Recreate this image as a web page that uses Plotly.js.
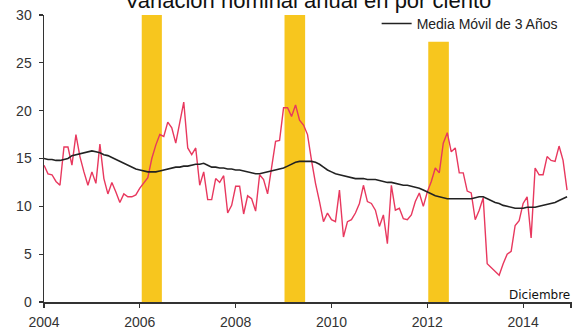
<!DOCTYPE html>
<html><head><meta charset="utf-8">
<script src="https://cdn.plot.ly/plotly-3.0.1.min.js"></script>
<style>html,body{margin:0;padding:0;background:#fff}#chart{width:576px;height:327px}</style>
</head><body><div id="chart"></div>
<script>
// Monthly data, Jan 2004 - Dec 2014
const years = [2004,2005,2006,2007,2008,2009,2010,2011,2012,2013,2014];
const nominalGrowth = [
  14.3,13.4,13.3,12.6,12.2,16.2,16.2,14.3,17.5,15.2,13.6,12.2,   // 2004
  13.6,12.4,16.5,12.9,11.3,12.5,11.5,10.4,11.3,11.0,11.0,11.2,   // 2005
  11.9,12.5,13.0,15.0,16.4,17.5,17.3,18.8,18.2,16.6,18.8,20.9,   // 2006
  16.1,15.4,16.1,12.2,13.6,10.7,10.7,12.9,12.5,13.2, 9.3,10.1,   // 2007
  12.1,12.1, 9.2,11.1,10.8, 9.5,13.3,12.8,11.3,14.1,16.8,16.9,   // 2008
  20.3,20.3,19.4,20.6,19.0,18.5,17.5,14.8,12.4,10.5, 8.4, 9.3,   // 2009
   8.6, 8.4,11.7, 6.8, 8.4, 8.6, 9.3,10.3,12.2,10.5,10.3, 9.6,   // 2010
   7.9, 9.1, 6.1,12.2, 9.6, 9.8, 8.7, 8.6, 9.1,10.5,11.4,10.0,   // 2011
  11.5,12.6,14.0,13.5,16.6,17.7,15.7,16.1,13.5,13.5,11.6,11.4,   // 2012
   8.6, 9.6,10.9, 4.0, 3.6, 3.2, 2.8, 4.0, 5.0, 5.3, 8.0, 8.5,   // 2013
  10.3,11.0, 6.7,14.0,13.3,13.3,15.2,14.8,14.7,16.3,14.8,11.7    // 2014
];
const movingAvg3y = [
  15.0,14.9,14.9,14.8,14.8,14.9,15.0,15.3,15.4,15.5,15.6,15.7,
  15.8,15.7,15.6,15.4,15.3,15.1,14.9,14.7,14.5,14.3,14.1,13.9,
  13.8,13.7,13.6,13.6,13.6,13.7,13.8,13.9,14.0,14.1,14.1,14.2,
  14.2,14.3,14.4,14.4,14.5,14.3,14.1,14.1,14.0,14.0,13.9,13.9,
  13.8,13.8,13.7,13.6,13.5,13.4,13.4,13.5,13.6,13.7,13.8,13.9,
  14.0,14.2,14.4,14.6,14.7,14.7,14.7,14.7,14.6,14.4,14.1,13.8,
  13.6,13.4,13.3,13.2,13.1,13.0,12.9,12.9,12.9,12.8,12.8,12.8,
  12.7,12.6,12.5,12.5,12.4,12.3,12.2,12.2,12.1,12.0,11.9,11.7,
  11.5,11.3,11.1,11.0,10.9,10.8,10.8,10.8,10.8,10.8,10.8,10.8,
  10.9,11.0,11.0,10.8,10.6,10.4,10.3,10.1,10.0, 9.9, 9.8, 9.8,
   9.8, 9.9, 9.9, 9.9,10.0,10.1,10.2,10.3,10.4,10.6,10.8,11.0
];
// Shaded periods (decimal years)
const shadeStart = [2006.04, 2009.02, 2012.02];
const shadeEnd   = [2006.46, 2009.45, 2012.45];
const shadeTop   = [30, 30, 27.2];

const tickYears  = [2004, 2006, 2008, 2010, 2012, 2014, 2015];
const tickLabels = ['2004', '2006', '2008', '2010', '2012', '2014', ''];
const yTicks = [0, 5, 10, 15, 20, 25, 30];

const titleText = 'Variación nominal anual en por ciento';
const legendText = 'Media Móvil de 3 Años';
const noteText = 'Diciembre';

const months = [];
years.forEach(y => { for (let m = 0; m < 12; m++) months.push(y + m / 12); });

const shadeX = shadeStart.map((s, i) => (s + shadeEnd[i]) / 2);
const shadeW = shadeStart.map((s, i) => shadeEnd[i] - s);

const FONT = 'Liberation Sans, Arial, sans-serif';

const traces = [
  { type: 'bar', x: shadeX, y: shadeTop, width: shadeW, base: 0,
    marker: { color: '#F7C61E', line: { width: 0 } }, showlegend: false, hoverinfo: 'skip' },
  { type: 'scatter', mode: 'lines', x: months, y: nominalGrowth,
    line: { color: '#E8385E', width: 1.4 }, showlegend: false },
  { type: 'scatter', mode: 'lines', x: months, y: movingAvg3y, name: legendText,
    line: { color: '#222222', width: 1.6 } }
];

const layout = {
  width: 576, height: 327,
  margin: { l: 44, r: 4, t: 15, b: 25 },
  paper_bgcolor: '#ffffff', plot_bgcolor: '#ffffff',
  font: { family: FONT, color: '#333333', size: 14 },
  title: { text: titleText, x: 0.5, xref: 'paper', xanchor: 'center',
           y: 1 - 8 / 327, yref: 'container', yanchor: 'bottom',
           font: { family: FONT, size: 22, color: '#111111' } },
  showlegend: true,
  legend: { x: 0.63, xanchor: 'left', y: 1.025, yanchor: 'top',
            bgcolor: 'rgba(255,255,255,0)', font: { family: FONT, size: 14, color: '#222222' } },
  xaxis: { range: [2004, 2015.02], tickvals: tickYears, ticktext: tickLabels,
           showline: true, linecolor: '#333333', linewidth: 1.5,
           ticks: 'outside', ticklen: 4, tickcolor: '#333333', tickwidth: 1.2,
           showgrid: false, zeroline: false, ticklabelstandoff: 3,
           tickfont: { family: FONT, size: 14, color: '#333333' } },
  yaxis: { range: [0, 30], tickvals: yTicks,
           showline: true, linecolor: '#333333', linewidth: 1.5,
           ticks: 'outside', ticklen: 4, tickcolor: '#333333', tickwidth: 1.2,
           showgrid: false, zeroline: false, ticklabelstandoff: 4,
           tickfont: { family: FONT, size: 14, color: '#333333' } },
  annotations: [{ text: noteText, xref: 'paper', yref: 'y', x: 1, y: 0,
                  xanchor: 'right', yanchor: 'bottom', showarrow: false, yshift: -2,
                  font: { family: 'DejaVu Sans, sans-serif', size: 12, color: '#111111' } }]
};

Plotly.newPlot('chart', traces, layout, { staticPlot: true, displayModeBar: false });
</script>
</body></html>
